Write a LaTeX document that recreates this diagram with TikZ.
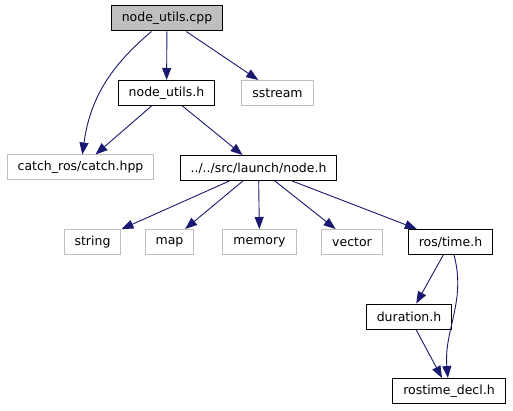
\documentclass[tikz,border=0pt]{standalone}
\usepackage{fontspec}
\setmainfont{DejaVu Sans}
\usetikzlibrary{arrows.meta}
\definecolor{edgeblue}{RGB}{25, 25, 112}
\definecolor{boxgray}{RGB}{191, 191, 191}

\begin{document}
\begin{tikzpicture}[x=1pt, y=1pt,
    file/.style={draw=black, line width=1pt, minimum height=25pt, inner xsep=10.5pt,
                 font=\fontsize{12.5}{14}\selectfont},
    sysfile/.style={file, draw=boxgray},
    dep/.style={-{Triangle[length=12pt, width=9pt]}, edgeblue, line width=0.9pt}]

    \useasboundingbox (0,0) rectangle (513,-411);

    \node[file, fill=boxgray] (cpp) at (167,-18.5) {node\_utils.cpp};
    \node[file] (nuh) at (166.5,-93) {node\_utils.h};
    \node[sysfile] (sstream) at (277.5,-93) {sstream};
    \node[sysfile] (catch) at (80.5,-167.5) {catch\_ros/catch.hpp};
    \node[file] (nodeh) at (258.5,-168) {../../src/launch/node.h};

    \node[sysfile] (string) at (92.5,-242) {string};
    \node[sysfile] (map) at (169.5,-242) {map};
    \node[sysfile] (memory) at (259.5,-242) {memory};
    \node[sysfile] (vector) at (352,-242) {vector};
    \node[file] (time) at (450.5,-242) {ros/time.h};

    \node[file] (duration) at (409,-316.5) {duration.h};
    \node[file] (decl) at (449,-391) {rostime\_decl.h};

    \draw[dep] (cpp) to[out=-140, in=82] (catch);
    \draw[dep] (cpp) -- (nuh);
    \draw[dep] (cpp) -- (sstream);

    \draw[dep] (nuh) -- (catch);
    \draw[dep] (nuh) -- (nodeh);

    \draw[dep] (nodeh) -- (string);
    \draw[dep] (nodeh) -- (map);
    \draw[dep] (nodeh) -- (memory);
    \draw[dep] (nodeh) -- (vector);
    \draw[dep] (nodeh) -- (time);

    \draw[dep] (time) -- (duration);
    \draw[dep] (time) to[out=-75, in=95] (decl);
    \draw[dep] (duration) -- (decl);

\end{tikzpicture}
\end{document}
